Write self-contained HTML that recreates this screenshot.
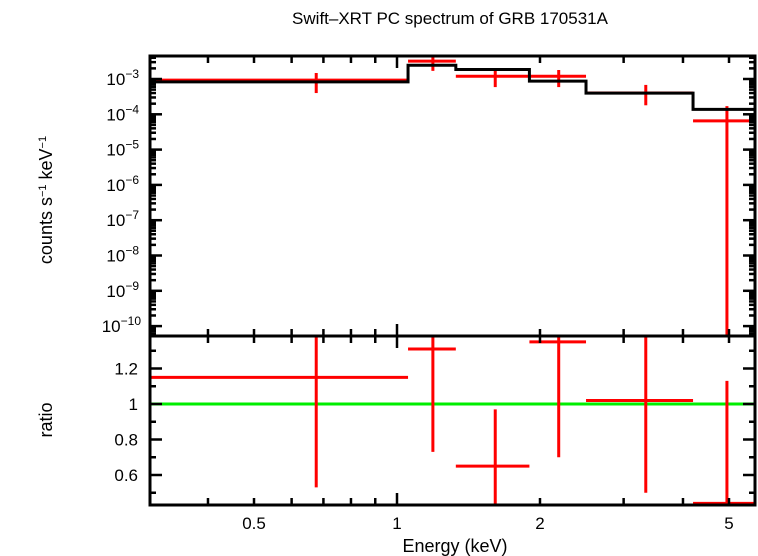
<!DOCTYPE html>
<html><head><meta charset="utf-8"><style>
html,body{margin:0;padding:0;background:#fff;width:758px;height:556px;overflow:hidden}
svg{display:block;font-family:"Liberation Sans",sans-serif}
</style></head><body>
<svg id="c" width="758" height="556">
<text x="450" y="24" text-anchor="middle" font-size="17">Swift–XRT PC spectrum of GRB 170531A</text>
<text transform="translate(52,200) rotate(-90)" text-anchor="middle" font-size="18">counts s<tspan dy="-6" font-size="11">−1</tspan><tspan dy="6"> keV</tspan><tspan dy="-6" font-size="11">−1</tspan></text>
<text transform="translate(52,420) rotate(-90)" text-anchor="middle" font-size="18">ratio</text>
<text x="455" y="552" text-anchor="middle" font-size="18">Energy (keV)</text>
</svg>
<script>
const binLo=[0.30,1.055,1.33,1.90,2.50,4.2];
const binHi=[1.055,1.33,1.90,2.50,4.2,5.67];
const binCenter=[0.676,1.19,1.61,2.19,3.34,4.95];
const dataVal=[9.3e-4,3.2e-3,1.2e-3,1.2e-3,4.0e-4,6.5e-5];
const dataErrLo=[4.0e-4,1.7e-3,5.9e-4,5.9e-4,1.8e-4,1e-12];
const dataErrHi=[1.48e-3,4.7e-3,1.7e-3,1.8e-3,6.8e-4,1.7e-4];
const modelVal=[8.3e-4,2.45e-3,1.86e-3,8.7e-4,3.98e-4,1.38e-4];
const ratioVal=[1.15,1.31,0.65,1.35,1.02,0.44];
const ratioLo=[0.53,0.73,0.40,0.70,0.50,0.40];
const ratioHi=[1.5,1.5,0.97,1.5,1.5,1.13];
const xTicks=[0.5,1,2,5];
const xTickLabels=["0.5","1","2","5"];
const yTicksExp=[-3,-4,-5,-6,-7,-8,-9,-10];
const rTicks=[0.6,0.8,1,1.2];
const rTickLabels=["0.6","0.8","1","1.2"];

const NS="http://www.w3.org/2000/svg",svg=document.getElementById('c');
const L=150,R=755,T1=56,B1=336,T2=336,B2=505;
const X=e=>397+475*Math.log10(e);
const Y1=v=>79-35.3*(Math.log10(v)+3);
const Y2=r=>404-177.5*(r-1);
function mk(tag,a,p){const e=document.createElementNS(NS,tag);for(const k in a)e.setAttribute(k,a[k]);(p||svg).appendChild(e);return e;}
const cl=(v,a,b)=>Math.max(a,Math.min(b,v));
const defs=mk('defs',{});
const c1=mk('clipPath',{id:'cp1'},defs);mk('rect',{x:L,y:T1,width:R-L,height:B1-T1},c1);
const c2=mk('clipPath',{id:'cp2'},defs);mk('rect',{x:L,y:T2,width:R-L,height:B2-T2},c2);
const g1=mk('g',{'clip-path':'url(#cp1)'});


const g2=mk('g',{'clip-path':'url(#cp2)'});


for(let i=0;i<binLo.length;i++){
 const g=mk('g',{stroke:'#f00','stroke-width':3},g1);
 
 
 const y=Y1(dataVal[i]);
 mk('line',{x1:X(binLo[i]),x2:X(binHi[i]),y1:y,y2:y},g);
 mk('line',{x1:X(binCenter[i]),x2:X(binCenter[i]),y1:Y1(dataErrHi[i]),y2:cl(Y1(dataErrLo[i]),T1,B1+5)},g);
}
let d='';
for(let i=0;i<binLo.length;i++){const y=Y1(modelVal[i]);d+=(i?'L':'M')+X(binLo[i])+','+y+'L'+X(binHi[i])+','+y;}
const ml=mk('path',{d:d,fill:'none',stroke:'#000','stroke-width':3},g1);


const gl=mk('line',{x1:L,x2:R,y1:Y2(1),y2:Y2(1),stroke:'#0e0','stroke-width':3},g2);


for(let i=0;i<binLo.length;i++){
 const g=mk('g',{stroke:'#f00','stroke-width':3},g2);
 
 
 const y=Y2(ratioVal[i]);
 mk('line',{x1:X(binLo[i]),x2:X(binHi[i]),y1:y,y2:y},g);
 mk('line',{x1:X(binCenter[i]),x2:X(binCenter[i]),y1:Y2(ratioHi[i]),y2:Y2(ratioLo[i])},g);
}
const ax=mk('g',{stroke:'#000','stroke-width':3,fill:'none'});


mk('rect',{x:L,y:T1,width:R-L,height:B2-T1},ax);
mk('line',{x1:L,x2:R,y1:B1,y2:B1},ax);
const minorX=[];for(const dec of [0.1,1]){for(let k=1;k<10;k++){const e=k*dec;if(X(e)>L&&X(e)<R)minorX.push(e);}}
const tk=mk('g',{stroke:'#000','stroke-width':2.5});


for(const e of minorX){const x=X(e);const major=(e===1);const len=major?12:7;
 for(const [yy,dir] of [[T1,1],[B1,-1],[B1,1],[B2,-1]]) mk('line',{x1:x,x2:x,y1:yy,y2:yy+dir*len},tk);}
for(let i=0;i<xTicks.length;i++){const t=mk('text',{x:X(xTicks[i]),y:529,'text-anchor':'middle','font-size':17});
 t.textContent=xTickLabels[i];
 
 }
for(let ex=-11;ex<=-2;ex++){for(let k=1;k<10;k++){const v=k*Math.pow(10,ex);const y=Y1(v);if(y<=T1+1||y>=B1-1)continue;const len=k===1?12:6;
 mk('line',{x1:L,x2:L+len,y1:y,y2:y},tk);mk('line',{x1:R,x2:R-len,y1:y,y2:y},tk);}}
for(const ex of yTicksExp){const t=mk('text',{x:ex===-10?141:139,y:Y1(Math.pow(10,ex))+6,'text-anchor':'end','font-size':17});
 t.innerHTML='10<tspan dy="-7" font-size="12">−'+(-ex)+'</tspan>';
 
 }
for(let r=0.5;r<=1.35;r+=0.1){const y=Y2(r);const major=Math.abs(Math.round(r*10)%2)===0;const len=major?12:6;
 mk('line',{x1:L,x2:L+len,y1:y,y2:y},tk);mk('line',{x1:R,x2:R-len,y1:y,y2:y},tk);}
for(let i=0;i<rTicks.length;i++){const t=mk('text',{x:138,y:Y2(rTicks[i])+6,'text-anchor':'end','font-size':17});
 t.textContent=rTickLabels[i];
 
 }
</script>
</body></html>
